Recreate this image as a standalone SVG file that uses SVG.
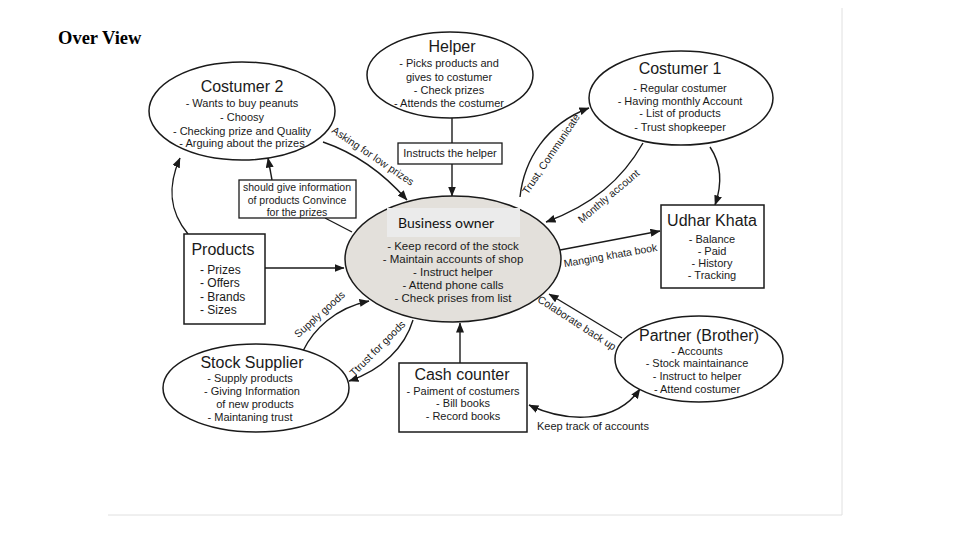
<svg xmlns="http://www.w3.org/2000/svg" width="960" height="540" viewBox="0 0 960 540">
<defs>
<marker id="ah" markerWidth="10" markerHeight="8" refX="9.5" refY="4" orient="auto-start-reverse" markerUnits="userSpaceOnUse">
<path d="M0,0 L10,4 L0,8 z" fill="#1a1a1a"/>
</marker>
</defs>
<style>
.sh{fill:#fff;stroke:#1a1a1a;stroke-width:1.5}
.bo{fill:#e3e0db;stroke:#1a1a1a;stroke-width:1.5}
.ln{fill:none;stroke:#1a1a1a;stroke-width:1.4}
.ar{fill:none;stroke:#1a1a1a;stroke-width:1.4;marker-end:url(#ah)}
.t{font-family:"Liberation Sans",Arial,sans-serif;fill:#1a1a1a;text-anchor:middle}
.ti{font-size:16px}
.b{font-size:11px}
.c{font-size:10.5px}
.l{text-anchor:start}
</style>
<rect width="960" height="540" fill="#fff"/>
<line x1="842" y1="8" x2="842" y2="515" stroke="#e0e0e0" stroke-width="1"/>
<line x1="108" y1="515" x2="842" y2="515" stroke="#e0e0e0" stroke-width="1"/>
<text x="58" y="44" font-family="Liberation Serif,'Times New Roman',serif" font-weight="bold" font-size="18.5" fill="#000">Over View</text>

<g id="connectors">
<path class="ln" d="M452,118 L452,143"/>
<path class="ar" d="M452,164 L452,196"/>
<path class="ar" d="M323,142 Q370,158 407,200"/>
<path class="ar" d="M188,234 C168,210 168,185 180,158"/>
<path class="ar" d="M272,180 L268,158"/>
<path class="ln" d="M352,232 L325,218"/>
<path class="ar" d="M265,268 L344,268"/>
<path class="ar" d="M460,363 L460,323"/>
<path class="ar" d="M520,197 C524,160 546,124 589,108"/>
<path class="ar" d="M643,143 C622,180 592,205 546,222"/>
<path class="ar" d="M710,147 C722,165 722,185 715,205"/>
<path class="ar" d="M560,250 L660,231"/>
<path class="ar" d="M622,338 L549,294"/>
<path class="ar" d="M529,405 C565,422 615,425 640,389" marker-start="url(#ah)"/>
<path class="ar" d="M303,351 C313,330 335,308 369,301"/>
<path class="ar" d="M413,320 C405,347 382,370 349,381"/>
<text class="t c" transform="translate(371,159) rotate(34)">Asking for low prizes</text>
<text class="t c" transform="translate(554,156) rotate(-56)">Trust, Communicate</text>
<text class="t c" transform="translate(611,199) rotate(-40)">Monthly account</text>
<text class="t c" transform="translate(611,259) rotate(-10)">Manging khata book</text>
<text class="t c" transform="translate(575,326) rotate(33)">Colaborate back up</text>
<text class="t c" transform="translate(322,317) rotate(-42)">Supply goods</text>
<text class="t c" transform="translate(380,351) rotate(-45)">Ttrust for goods</text>
<text class="t b l" x="537" y="430">Keep track of accounts</text>
<g id="lbl-instructs">
<rect class="sh" x="398" y="143" width="104" height="21" style="stroke-width:1.3"/>
<text class="t b" x="450" y="157">Instructs the helper</text>
</g>
<g id="lbl-info">
<rect class="sh" x="239" y="180" width="117" height="38" style="stroke-width:1.3"/>
<text class="t c" x="297" y="191">should give information</text>
<text class="t c" x="297" y="204">of products Convince</text>
<text class="t c" x="297" y="216">for the prizes</text>
</g>
</g>

<g id="costumer2">
<ellipse class="sh" cx="242" cy="111" rx="93" ry="49"/>
<text class="t ti" x="242" y="92">Costumer 2</text>
<text class="t b" x="242" y="107">- Wants to buy peanuts</text>
<text class="t b" x="242" y="121">- Choosy</text>
<text class="t b" x="242" y="135">- Checking prize and Quality</text>
<text class="t b" x="242" y="147">- Arguing about the prizes</text>
</g>

<g id="helper">
<ellipse class="sh" cx="450" cy="75" rx="83" ry="43"/>
<text class="t ti" x="452" y="52">Helper</text>
<text class="t b" x="449" y="67">- Picks products and</text>
<text class="t b" x="449" y="81">gives to costumer</text>
<text class="t b" x="449" y="94">- Check prizes</text>
<text class="t b" x="449" y="107">- Attends the costumer</text>
</g>

<g id="costumer1">
<ellipse class="sh" cx="681" cy="98" rx="92" ry="47"/>
<text class="t ti" x="680" y="74">Costumer 1</text>
<text class="t b" x="680" y="92">- Regular costumer</text>
<text class="t b" x="680" y="105">- Having monthly Account</text>
<text class="t b" x="680" y="117">- List of products</text>
<text class="t b" x="680" y="131">- Trust shopkeeper</text>
</g>

<g id="business-owner">
<ellipse class="bo" cx="453" cy="259" rx="108" ry="63"/>
<rect x="387" y="208" width="133" height="29" fill="#ebebeb"/>
<text x="398" y="228" font-family="Lato,'Open Sans',sans-serif" font-size="14" fill="#111">Business owner</text>
<text class="t b" x="453" y="250" style="font-size:11.5px">- Keep record of the stock</text>
<text class="t b" x="453" y="263" style="font-size:11.5px">- Maintain accounts of shop</text>
<text class="t b" x="453" y="276" style="font-size:11.5px">- Instruct helper</text>
<text class="t b" x="453" y="289" style="font-size:11.5px">- Attend phone calls</text>
<text class="t b" x="453" y="302" style="font-size:11.5px">- Check prises from list</text>
</g>

<g id="udhar-khata">
<rect class="sh" x="661" y="205" width="103" height="83"/>
<text class="t ti" x="712" y="226">Udhar Khata</text>
<text class="t b" x="712" y="243">- Balance</text>
<text class="t b" x="712" y="255">- Paid</text>
<text class="t b" x="712" y="267">- History</text>
<text class="t b" x="712" y="279">- Tracking</text>
</g>

<g id="products">
<rect class="sh" x="184" y="234" width="81" height="90"/>
<text class="t ti" x="223" y="255">Products</text>
<text class="t l" x="200" y="274" style="font-size:12px">- Prizes</text>
<text class="t l" x="200" y="287" style="font-size:12px">- Offers</text>
<text class="t l" x="200" y="301" style="font-size:12px">- Brands</text>
<text class="t l" x="200" y="314" style="font-size:12px">- Sizes</text>
</g>

<g id="stock-supplier">
<ellipse class="sh" cx="256" cy="388" rx="93" ry="44"/>
<text class="t ti" x="252" y="368">Stock Supplier</text>
<text class="t b" x="250" y="382">- Supply products</text>
<text class="t b" x="252" y="395">- Giving Information</text>
<text class="t b" x="255" y="408">of new products</text>
<text class="t b" x="250" y="421">- Maintaning trust</text>
</g>

<g id="cash-counter">
<rect class="sh" x="399" y="363" width="128" height="69"/>
<text class="t ti" x="462" y="380">Cash counter</text>
<text class="t b" x="463" y="395">- Paiment of costumers</text>
<text class="t b" x="463" y="407">- Bill books</text>
<text class="t b" x="463" y="420">- Record books</text>
</g>

<g id="partner">
<ellipse class="sh" cx="699" cy="359" rx="84" ry="43"/>
<text class="t ti" x="699" y="341">Partner (Brother)</text>
<text class="t b" x="697" y="355">- Accounts</text>
<text class="t b" x="697" y="367">- Stock maintainance</text>
<text class="t b" x="697" y="380">- Instruct to helper</text>
<text class="t b" x="697" y="393">- Attend costumer</text>
</g>
</svg>
